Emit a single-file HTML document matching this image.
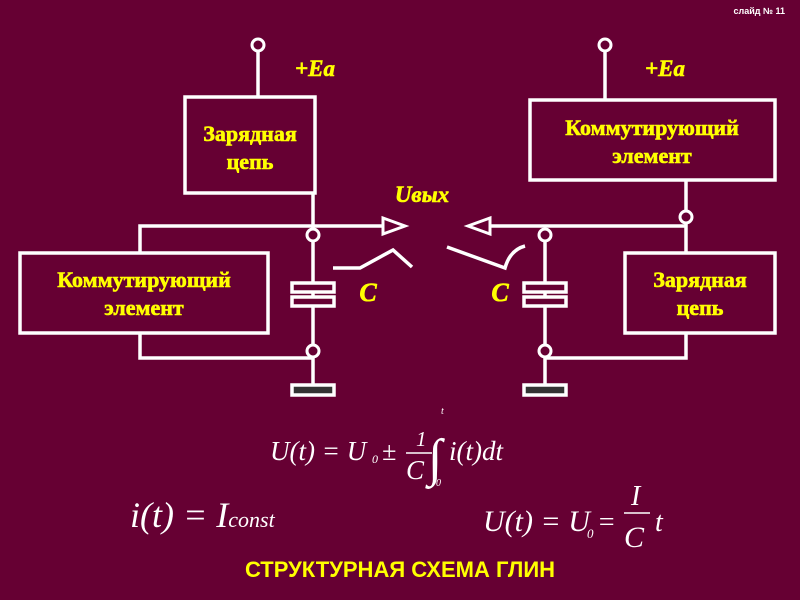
<!DOCTYPE html>
<html><head><meta charset="utf-8"><style>
body{margin:0;background:#660033;}
svg{display:block}
.b{font-family:"Liberation Serif",serif;font-weight:bold;fill:#ffff00;}
.m{font-family:"Liberation Serif",serif;font-style:italic;fill:#fff;}
</style></head><body>
<svg width="800" height="600" viewBox="0 0 800 600">
<rect width="800" height="600" fill="#660033"/>
<g stroke="#fff" stroke-width="3.5" fill="none">
<line x1="258" y1="50" x2="258" y2="97"/>
<rect x="185" y="97" width="130" height="96"/>
<line x1="313" y1="193" x2="313" y2="395"/>
<polyline points="140,253 140,226 390,226"/>
<rect x="20" y="253" width="248" height="80"/>
<polyline points="140,333 140,358 313,358"/>
<rect x="292" y="283" width="42" height="9" fill="#660033"/>
<rect x="292" y="297" width="42" height="9" fill="#660033"/>
<rect x="292" y="385" width="42" height="10" fill="#333"/>
<path d="M333,268 L360,268 L393,250 Q402,258 412,267"/>
<line x1="605" y1="50" x2="605" y2="100"/>
<rect x="530" y="100" width="245" height="80"/>
<line x1="686" y1="180" x2="686" y2="253"/>
<line x1="470" y1="226" x2="686" y2="226"/>
<line x1="545" y1="235" x2="545" y2="395"/>
<rect x="625" y="253" width="150" height="80"/>
<polyline points="686,333 686,358 545,358"/>
<rect x="524" y="283" width="42" height="9" fill="#660033"/>
<rect x="524" y="297" width="42" height="9" fill="#660033"/>
<rect x="524" y="385" width="42" height="10" fill="#333"/>
<path d="M447,247 L505,268 Q510,250 525,246"/>
</g>
<g stroke="#fff" stroke-width="3" fill="#660033">
<circle cx="258" cy="45" r="6"/>
<circle cx="605" cy="45" r="6"/>
<circle cx="313" cy="235" r="6"/>
<circle cx="313" cy="351" r="6"/>
<circle cx="545" cy="235" r="6"/>
<circle cx="545" cy="351" r="6"/>
<circle cx="686" cy="217" r="6"/>
</g>
<polygon points="383,218 405,226 383,234" fill="#660033" stroke="#fff" stroke-width="3"/>
<polygon points="490,218 468,226 490,234" fill="#660033" stroke="#fff" stroke-width="3"/>
<g stroke="#ffff00" stroke-width="0.6">
<text class="b" x="250" y="141" font-size="22" text-anchor="middle">Зарядная</text>
<text class="b" x="250" y="169" font-size="22" text-anchor="middle">цепь</text>
<text class="b" x="144" y="287" font-size="22" text-anchor="middle">Коммутирующий</text>
<text class="b" x="144" y="315" font-size="22" text-anchor="middle">элемент</text>
<text class="b" x="652" y="135" font-size="22" text-anchor="middle">Коммутирующий</text>
<text class="b" x="652" y="163" font-size="22" text-anchor="middle">элемент</text>
<text class="b" x="700" y="287" font-size="22" text-anchor="middle">Зарядная</text>
<text class="b" x="700" y="315" font-size="22" text-anchor="middle">цепь</text>
<text class="b" x="315" y="76" font-size="23" font-style="italic" text-anchor="middle">+Ea</text>
<text class="b" x="665" y="76" font-size="23" font-style="italic" text-anchor="middle">+Ea</text>
<text class="b" x="422" y="202" font-size="23" font-style="italic" text-anchor="middle">Uвых</text>
<text class="b" x="368" y="301" font-size="26" font-style="italic" text-anchor="middle">C</text>
<text class="b" x="500" y="301" font-size="26" font-style="italic" text-anchor="middle">C</text>
</g>
<text x="785" y="14" font-family="Liberation Sans,sans-serif" font-weight="bold" font-size="9" fill="#fff" text-anchor="end">слайд № 11</text>
<text class="m" x="270" y="460" font-size="27">U(t) = U</text>
<text class="m" x="372" y="463" font-size="12" font-style="normal">0</text>
<text class="m" x="382" y="460" font-size="26" font-style="normal">±</text>
<text class="m" x="416" y="446" font-size="21" font-style="normal">1</text>
<line x1="406" y1="453" x2="432" y2="453" stroke="#fff" stroke-width="1.5"/>
<text class="m" x="406" y="479" font-size="27">C</text>
<text class="m" x="428" y="475" font-size="52" font-style="normal">∫</text>
<text class="m" x="441" y="414" font-size="10">t</text>
<text class="m" x="436" y="486" font-size="10" font-style="normal">0</text>
<text class="m" x="449" y="460" font-size="27">i(t)dt</text>
<text class="m" x="130" y="527" font-size="36">i(t) = I<tspan font-size="22">const</tspan></text>
<text class="m" x="483" y="531" font-size="30">U(t) = U</text>
<text class="m" x="587" y="538" font-size="13" font-style="normal">0</text>
<text class="m" x="597" y="531" font-size="28" font-style="normal">=</text>
<text class="m" x="631" y="505" font-size="28">I</text>
<line x1="624" y1="513" x2="650" y2="513" stroke="#fff" stroke-width="1.5"/>
<text class="m" x="624" y="547" font-size="30">C</text>
<text class="m" x="655" y="531" font-size="28">t</text>
<text x="400" y="577" font-size="22" font-family="Liberation Sans,sans-serif" font-weight="bold" fill="#ffff00" text-anchor="middle">СТРУКТУРНАЯ СХЕМА ГЛИН</text>
</svg>
</body></html>
